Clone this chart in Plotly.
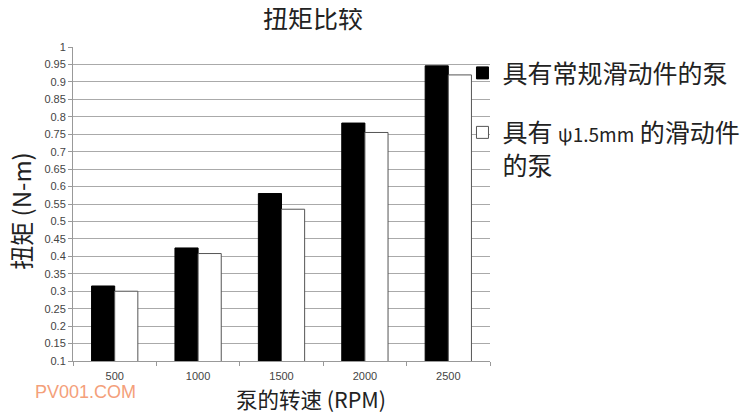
import plotly.graph_objects as go

categories = ["500", "1000", "1500", "2000", "2500"]
series_names = ["具有常规滑动件的泵",
                "具有 <span style=\"font-size:19px\">ψ1.5mm</span> 的滑动件<br>的泵"]
regular = [0.315, 0.424, 0.580, 0.782, 0.946]
slider15 = [0.300, 0.408, 0.535, 0.755, 0.920]
ytick_vals = [round(0.1 + 0.05 * i, 2) for i in range(19)]
ytick_text = [("%g" % v) for v in ytick_vals]

font_cjk = "Noto Sans CJK SC, Noto Sans, sans-serif"
font_lat = "Liberation Sans, Arial, sans-serif"

fig = go.Figure()
fig.add_trace(go.Bar(x=categories, y=regular, name=series_names[0], legendgroup="a",
                     marker=dict(color="#000000", line=dict(color="#000000", width=1))))
fig.add_trace(go.Bar(x=categories, y=slider15, name=series_names[1], legendgroup="b",
                     marker=dict(color="#ffffff", line=dict(color="#555555", width=1))))

fig.update_layout(
    width=750, height=416,
    margin=dict(l=65, r=268, t=39, b=63, autoexpand=False),
    paper_bgcolor="white", plot_bgcolor="white",
    barmode="group", bargap=0.445, bargroupgap=0,
    font=dict(family=font_cjk, color="#222222"),
    title=dict(text="扭矩比较", x=0.5755, xref="paper", xanchor="center",
               y=0.9736, yanchor="middle",
               font=dict(size=25, family=font_cjk, color="#222222")),
    showlegend=True,
    legend=dict(x=0.934, xanchor="left", y=0.99, yanchor="top", valign="top",
                font=dict(size=25, family=font_cjk, color="#222222"),
                bgcolor="rgba(0,0,0,0)", tracegroupgap=24, itemwidth=30),
    xaxis=dict(type="category", showgrid=False, showline=True, linecolor="#999999",
               automargin=False,
               ticks="outside", tickson="boundaries", ticklen=4, tickcolor="#999999",
               ticklabelstandoff=5,
               tickfont=dict(size=11, family=font_lat, color="#444444")),
    yaxis=dict(range=[0.1, 1.0], tickvals=ytick_vals, ticktext=ytick_text,
               automargin=False,
               showgrid=True, gridcolor="#aaaaaa", gridwidth=1,
               showline=True, linecolor="#999999", ticks="outside", ticklen=4, tickcolor="#999999",
               zeroline=False,
               tickfont=dict(size=11, family=font_lat, color="#444444")),
)

# axis titles
fig.add_annotation(text="泵的转速 (RPM)", xref="paper", yref="paper", x=0.571, y=-0.121,
                   xanchor="center", yanchor="middle", showarrow=False,
                   font=dict(size=21.5, family=font_cjk, color="#222222"))
fig.add_annotation(text="扭矩 (N-m)", xref="paper", yref="paper", x=-0.125, y=0.478,
                   xanchor="center", yanchor="middle", showarrow=False, textangle=-90,
                   font=dict(size=24, family=font_cjk, color="#222222"))

# watermark
fig.add_annotation(text="PV001.COM", xref="paper", yref="paper", x=-0.097, y=-0.099,
                   xanchor="left", yanchor="middle", showarrow=False,
                   font=dict(size=18, family=font_lat, color="#f4a07a"))

fig.write_html("out.html")
